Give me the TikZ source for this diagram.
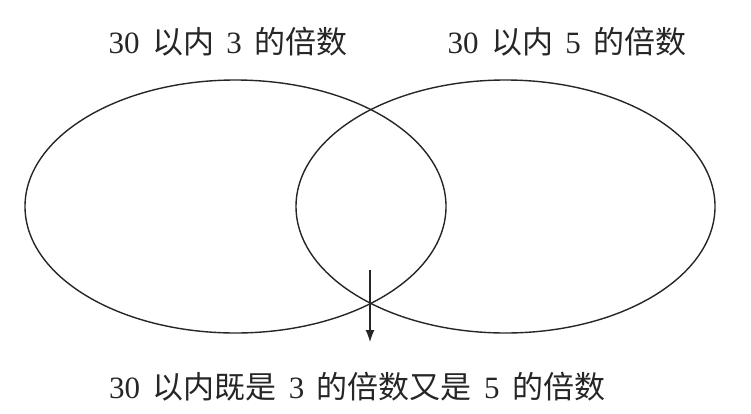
\documentclass[tikz,border=0pt]{standalone}
\usepackage{fontspec}
\newfontfamily\cjk{Noto Sans CJK SC}
\newfontfamily\dig{Liberation Serif}
\usetikzlibrary{arrows.meta}
\newcommand{\gapsp}{\hspace{0.4em}}
\begin{document}
\begin{tikzpicture}[x=1pt,y=-1pt,
  ell/.style={draw=black!85,line width=1.4pt},
  lbl/.style={font=\cjk\fontsize{31}{34}\selectfont,text=black!85,inner sep=0pt},
  arr/.style={draw=black!85,line width=1.2pt,-{Latex[length=12pt,width=9pt]}}]
\useasboundingbox (0,0) rectangle (751,413);
\draw[ell] (235.5,206.5) ellipse [x radius=210.5, y radius=126.5];
\draw[ell] (505.5,206.5) ellipse [x radius=209.5, y radius=126.5];
\node[lbl] (a) at (228,42) {{\dig 30}\gapsp 以内\gapsp{\dig 3}\gapsp 的倍数};
\node[lbl] (b) at (567,42) {{\dig 30}\gapsp 以内\gapsp{\dig 5}\gapsp 的倍数};
\node[lbl] (c) at (357,387) {{\dig 30}\gapsp 以内既是\gapsp{\dig 3}\gapsp 的倍数又是\gapsp{\dig 5}\gapsp 的倍数};
\coordinate (s) at (370,270);
\coordinate (t) at (370,342);
\draw[arr] (s) -- (t);
\end{tikzpicture}
\end{document}
